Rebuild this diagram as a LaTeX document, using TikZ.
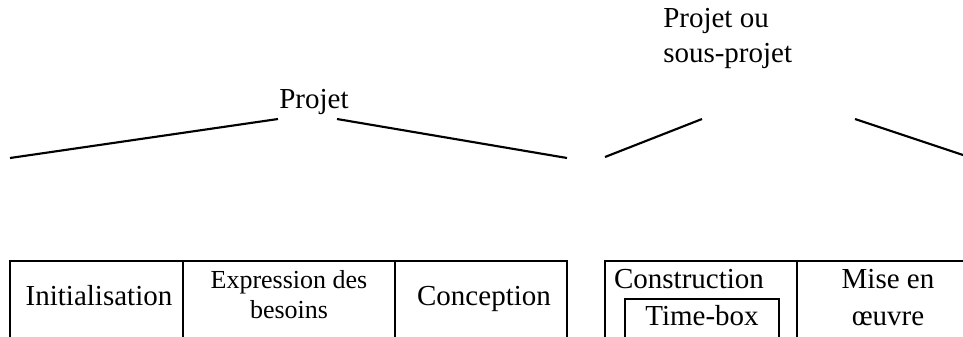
\documentclass[tikz,border=0pt]{standalone}
\usepackage{fontspec}
\setmainfont{Liberation Serif}
\begin{document}
\begin{tikzpicture}[x=0.75pt,y=-0.75pt,
  lbl/.style={font=\fontsize{21.75}{26.25}\selectfont,inner sep=0pt,anchor=base,align=center},
  smalllbl/.style={font=\fontsize{19.5}{22.5}\selectfont,inner sep=0pt,anchor=base,align=center},
  branch/.style={line width=1.6pt},
  frame/.style={line width=1.4pt}]
\useasboundingbox (0,0) rectangle (963,336);
\clip (0,0) rectangle (963,336);
% top labels
\node[lbl] (projet) at (314,108) {Projet};
\node[lbl,anchor=base west,align=left,font=\fontsize{21.75}{26.25}\selectfont] (sousprojet) at (663,62) {Projet ou\\sous-projet};
% branch end points
\coordinate (aL) at (278,119);
\coordinate (aLe) at (10,158);
\coordinate (aR) at (337,119);
\coordinate (aRe) at (567,158);
\coordinate (bL) at (702,119);
\coordinate (bLe) at (605,157);
\coordinate (bR) at (855,119);
\coordinate (bRe) at (969,157);
\draw[branch] (aLe) -- (aL);
\draw[branch] (aR) -- (aRe);
\draw[branch] (bLe) -- (bL);
\draw[branch] (bR) -- (bRe);
% left frame
\draw[frame] (10,261) rectangle (567,350);
\draw[frame] (183,261) -- (183,350);
\draw[frame] (395,261) -- (395,350);
% right frame
\draw[frame] (605,261) rectangle (979,350);
\draw[frame] (797,261) -- (797,350);
\draw[frame] (625,299) rectangle (779,350);
% cell labels
\node[lbl] (init) at (99,305) {Initialisation};
\node[smalllbl] (expr) at (289,318) {Expression des\\besoins};
\node[lbl] (conc) at (484,305) {Conception};
\node[lbl] (constr) at (689,288) {Construction};
\node[lbl] (tbox) at (702,325) {Time-box};
\node[lbl,font=\fontsize{21.75}{27.75}\selectfont] (mise) at (888,325) {Mise en\\œuvre};
\end{tikzpicture}
\end{document}
